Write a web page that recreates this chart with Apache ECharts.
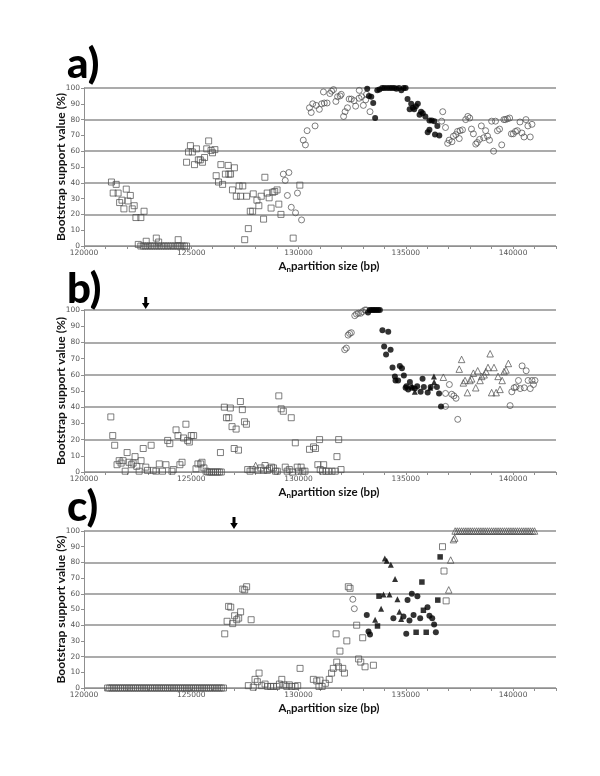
<!DOCTYPE html>
<html>
<head>
<meta charset="utf-8">
<script src="https://cdn.jsdelivr.net/npm/echarts@6/dist/echarts.min.js"></script>
<style>html,body{margin:0;padding:0;background:#fff}#c{width:600px;height:776px}</style>
</head>
<body>
<div id="c"></div>
<script>
// ---------- tick labels ----------
const xLabelValues = [120000, 125000, 130000, 135000, 140000];
const yLabelValues = [0, 10, 20, 30, 40, 50, 60, 70, 80, 90, 100];
const panelLabels = ['a)', 'b)', 'c)'];

// ---------- panel a ----------
const aOpenSquares = [
  [121280,40.5],[121500,39],[121360,33.5],[121590,33.5],[121970,36],[121770,29],[121660,27.5],[121860,23.5],
  [122050,28.5],[122160,32],[122250,23.5],[122340,25.5],[122420,18],[122650,18],[122800,22],
  [122530,1],[122900,3],[123370,5],[123480,2.5],[124390,4],
  [122650,0],[122760,0],[122860,0],[122970,0],[123080,0],[123180,0],[123290,0],[123400,0],[123500,0],
  [123610,0],[123720,0],[123820,0],[123930,0],[124040,0],[124140,0],[124250,0],[124360,0],[124460,0],
  [124570,0],[124680,0],[124780,0],
  [124780,53],[124870,59.5],[124960,63.5],[125050,59.5],[125150,51.5],[125240,61.5],[125330,54.5],
  [125420,54.5],[125520,53],[125620,56],[125720,61.5],[125810,66.5],[125920,60.5],[125990,59],[126100,61],
  [126160,44.5],[126270,40.5],[126460,39],[126380,51.5],[126590,45.5],[126720,51],[126750,45.5],[126830,45.5],
  [126920,35.5],[127010,49.5],[127100,31.5],[127230,38],[127300,31.5],[127400,38],[127490,4],[127580,31.5],
  [127660,11],[127750,22],[127860,22],[127890,33],[128060,29],[128150,25.5],[128260,31.5],[128370,17],
  [128430,43.5],[128540,33.5],[128630,30.5],[128720,24],[128800,34],[128890,34.5],[129000,35.5],[129080,26.5],
  [129180,20],[129750,5],[130060,38.5]
];
const aOpenCircles = [
  [129290,45.5],[129550,46.5],[129380,41.5],[129480,32],[129660,24.5],[129860,21],[129950,33.5],[130140,16.5],
  [130220,67],[130320,64],[130400,73],[130510,87.5],[130590,84.5],[130660,90],[130820,89],[130770,76],
  [130970,86.5],[131080,90],[131200,90.5],[131330,90.5],[131160,97.5],[131460,96.5],[131540,98],[131630,99],
  [131740,91.5],[131820,94.5],[131940,95],[131990,96],[132100,82],[132170,85],[132280,87.5],[132360,93],
  [132460,93],[132590,92],[132660,88.5],[132820,93.5],[132830,98.5],[132940,94.5],[133020,89],[133130,92.5],
  [133170,96],[133330,85],
  [136720,85],[136670,79],[136850,75],[136950,65],[137020,67],[137150,66],[137220,69.5],[137330,70.5],
  [137410,72.5],[137490,68],[137530,73],[137640,73.5],[137790,80],[137890,82],[137980,81],[138060,74],
  [138150,71],[138260,64.5],[138330,65.5],[138440,67.5],[138520,76],[138630,68.5],[138720,73],[138810,69.5],
  [138900,67],[139000,79],[139090,60],[139180,79],[139270,73],[139370,74],[139470,64],[139570,80],
  [139640,80],[139740,80.5],[139840,81],[139920,71],[140010,71],[140110,72.5],[140200,73],[140320,78.5],
  [140410,71.5],[140510,69],[140600,80],[140690,76],[140800,69],[140880,77]
];
const aFilledCircles = [
  [133200,99.5],[133280,95],[133390,94.5],[133480,90.5],[133570,81],[133670,98.5],[133770,99],[133900,100],
  [134000,100],[134130,100],[134250,100],[134360,100],[134470,100],[134560,99.5],[134680,100],[134790,98.5],
  [134900,100],[134990,100],[135080,93],[135180,86.5],[135250,90],[135330,87.5],[135390,86.5],[135470,88.5],
  [135560,90],[135640,83],[135710,85],[135790,84],[135910,82],[136100,79.5],[136210,79.5],[136330,79],
  [136100,73.5],[136020,72],[136360,70.5],[136470,76],[136560,70]
];

// ---------- panel b ----------
const bOpenSquares = [
  [121250,34],[121340,22.5],[121430,16.5],[121540,4.5],[121640,7],[121730,5.5],[121820,7],[121920,0.5],
  [122010,12],[122100,6],[122210,4.5],[122290,5.5],[122380,9.5],[122460,3.5],[122570,0.5],[122660,7],
  [122760,14.5],[122880,3],[122960,1],[123130,16.5],[123230,1],[123350,0.5],[123510,5],[123660,0.5],
  [123820,4.5],[123900,19.5],[124000,17.5],[124100,0.5],[124160,1.5],[124290,26],[124380,22.5],[124470,4.5],
  [124570,6],[124640,21],[124750,29.5],[124830,19.5],[124910,18.5],[125000,22.5],[125110,22.5],[125220,2],
  [125310,5],[125440,5],[125500,6],[125590,2.5],[125690,0.5],[125770,0],[125860,0],[125950,0],[126040,0],
  [126130,0],[126220,0],[126310,0],[126400,0],[126360,12],[126540,40],[126640,33.5],[126750,33.5],
  [126820,39.5],[126900,28],[127000,14.5],[127090,26.5],[127200,13.5],[127290,43.5],[127380,38.5],
  [127480,31],[127570,29.5],[127630,1.5],[127740,0.5],[127840,1.5],[128100,1],[128240,2.5],[128370,1],
  [128440,4],[128550,1],[128650,2],[128740,3],[128830,2.5],[128930,0.5],[129010,0.5],[129080,47],
  [129190,39],[129290,37.5],[129380,3],[129470,0.5],[129570,1.5],[129660,33.5],[129710,0],[129850,18],
  [129940,3],[130000,0.5],[130120,3],[130200,0.5],[130300,0.5],[130510,14],[130700,15.5],[130790,14.5],
  [130980,20],[130900,4.5],[131170,4.5],[131010,1.5],[131120,0.5],[131280,0.5],[131400,0.5],[131560,0.5],
  [131710,0.5],[131790,9.5],[131870,20],[131980,1.5]
];
const bOpenTriangles = [
  [128000,4],
  [136750,58.5],[137600,69.5],[137490,63.5],[137680,55],[137760,56.5],[137870,49],[137990,56.5],[138070,57.5],
  [138150,61],[138260,52],[138350,62.5],[138460,56.5],[138540,59],[138650,60],[138740,62],[138830,64.5],
  [138930,73],[139000,49],[139110,64.5],[139210,49],[139300,59],[139390,51],[139490,56.5],[139580,62],
  [139670,63],[139780,67]
];
const bOpenCircles = [
  [132150,75.5],[132230,76.5],[132310,84.5],[132380,85.5],[132460,86],[132620,96.5],[132700,97.5],
  [132790,98],[132900,98],[132980,99],[133090,100],[133160,100],
  [136850,48.5],[137030,54],[137140,48],[137240,47],[137340,45.5],[136850,40.5],[137420,32.5],
  [139860,41],[139940,49.5],[140050,52],[140140,52.5],[140250,56.5],[140330,51.5],[140420,65.5],
  [140520,52],[140610,62.5],[140700,56.5],[140800,51.5],[140880,56.5],[140950,54],[141020,56.5]
];
const bFilledCircles = [
  [133240,98.5],[133320,100],[133400,100],[133480,100],[133550,100],[133630,100],[133710,100],[133790,100],
  [133910,87.5],[134180,86.5],[133990,77.5],[134290,75.5],[134080,72.5],[134380,64.5],[134720,65.5],
  [134820,64],[134490,59],[134910,59.5],[134520,56.5],[134640,56.5],[135030,53],[135190,55.5],[134990,52],
  [135110,51],[135270,52],[135420,51.5],[135530,53],[135690,49.5],[135780,57.5],[135840,52.5],[136020,49],
  [136160,52.5],[136450,52.5],[136550,48.5],[136640,40.5]
];
const bFilledTriangles = [
  [135300,53],[135420,49.5],[136310,59],[136320,55.5],[136140,52]
];

// ---------- panel c ----------
const cOpenSquares = [
  [121100,0],[121200,0],[121300,0],[121400,0],[121500,0],[121600,0],[121700,0],[121800,0],[121900,0],
  [122000,0],[122100,0],[122200,0],[122300,0],[122400,0],[122500,0],[122600,0],[122700,0],[122800,0],
  [122900,0],[123000,0],[123100,0],[123200,0],[123300,0],[123400,0],[123500,0],[123600,0],[123700,0],
  [123800,0],[123900,0],[124000,0],[124100,0],[124200,0],[124300,0],[124400,0],[124500,0],[124600,0],
  [124700,0],[124800,0],[124900,0],[125000,0],[125100,0],[125200,0],[125300,0],[125400,0],[125500,0],
  [125600,0],[125700,0],[125800,0],[125900,0],[126000,0],[126100,0],[126200,0],[126300,0],[126400,0],
  [126500,0],
  [126560,34.5],[126670,42.5],[126740,52],[126840,51.5],[126930,41],[127020,46],[127120,43.5],[127210,44.5],
  [127300,48.5],[127400,63],[127490,62.5],[127580,64.5],[127790,43.5],[127660,1.5],[127890,0.5],[127970,5.5],
  [128080,4],[128160,9.5],[128280,1.5],[128440,2.5],[128560,1],[128700,1],[128830,1],[128980,1],
  [129110,2.5],[129220,5.5],[129320,2],[129450,1],[129570,2],[129680,1],[129840,1],[129960,1.5],
  [130070,12.5],[130690,5.5],[130850,4.5],[131000,5],[130950,1],[131100,1],[131250,3],[131430,5.5],
  [131540,9.5],[131620,12.5],[131780,16.5],[131860,13.5],[132060,12.5],[132140,9.5],[131930,23.5],
  [131750,34.5],[132250,30],[132320,64.5],[132400,63.5],[132710,40],[132990,32],[132800,18.5],[132900,16.5],
  [133100,13.5],[133490,14.5],[136710,90],[136780,74.5],[136880,55.5]
];
const cOpenCircles = [[132530,56.5],[132600,50.5]];
const cFilledCircles = [
  [133180,46.5],[133260,36],[133330,34],[134420,44.5],[134890,45.5],[135020,34.5],[135080,56],[135170,43],
  [135280,60],[135360,46.5],[135540,58.5],[135670,44.5],[136010,51.5],[136100,46],[136230,44.5],
  [136320,40.5],[136400,35.5]
];
const cFilledTriangles = [
  [134020,82.5],[134110,81],[134300,78.5],[134500,69.5],[133960,59.5],[134240,59.5],[134610,56.5],
  [133850,50.5],[133570,43.5],[134700,48.5],[134780,44]
];
const cFilledSquares = [
  [133750,58.5],[133680,39.5],[135750,67.5],[136600,83.5],[136490,56],[135480,35.5],[135950,35.5],[135820,49.5]
];
const cOpenTriangles = [
  [137000,62.5],[137090,81.5],[137220,94.5],[137280,95.5],
  [137300,100],[137400,100],[137500,100],[137600,100],[137700,100],[137800,100],[137900,100],[138000,100],
  [138100,100],[138200,100],[138300,100],[138400,100],[138500,100],[138600,100],[138700,100],[138800,100],
  [138900,100],[139000,100],[139100,100],[139200,100],[139300,100],[139400,100],[139500,100],[139600,100],
  [139700,100],[139800,100],[139900,100],[140000,100],[140100,100],[140200,100],[140300,100],[140400,100],
  [140500,100],[140600,100],[140700,100],[140800,100],[140900,100],[141000,100]
];

// ---------- build chart ----------
const chart = echarts.init(document.getElementById('c'), null, {renderer: 'canvas'});
const FONT = 'Lato';
const GRAY = '#8f8f8f';
const grids = [
  {left: 84, right: 44, top: 88, height: 158},
  {left: 84, right: 44, top: 310, height: 162},
  {left: 84, right: 44, top: 531, height: 157}
];

function xAxisFor(i) {
  return {
    type: 'value', gridIndex: i, min: 120000, max: 142000, interval: 1000,
    name: '{b|A}{s|n}{b|partition size (bp)}',
    nameLocation: 'middle', nameGap: 13,
    nameTextStyle: {
      padding: [0, 0, 0, 18],
      rich: {
        b: {fontFamily: FONT, fontWeight: 'bold', fontSize: 11.5, color: '#111'},
        s: {fontFamily: FONT, fontWeight: 'bold', fontSize: 8, color: '#111', verticalAlign: 'bottom', padding: [6, 0, 0, 0]}
      }
    },
    axisLine: {show: true, lineStyle: {color: GRAY, width: 1}},
    axisTick: {show: true, length: 3, interval: 0, lineStyle: {color: GRAY}},
    axisLabel: {
      interval: 0, fontFamily: 'DejaVu Sans', fontSize: 7.5, color: '#555', margin: 3,
      formatter: v => (xLabelValues.indexOf(v) >= 0 ? String(v) : '')
    },
    splitLine: {show: false}
  };
}
function yAxisFor(i) {
  return {
    type: 'value', gridIndex: i, min: 0, max: 100, interval: 10,
    name: 'Bootstrap support value (%)',
    nameLocation: 'middle', nameGap: 17, nameMoveOverlap: false,
    nameTextStyle: {fontFamily: FONT, fontWeight: 'bold', fontSize: 12, color: '#111'},
    axisLine: {show: true, lineStyle: {color: GRAY, width: 1}},
    axisTick: {show: true, length: 3, lineStyle: {color: GRAY}},
    axisLabel: {
      fontFamily: 'DejaVu Sans', fontSize: 7.5, color: '#555', margin: 4,
      formatter: v => (yLabelValues.indexOf(v) >= 0 ? String(v) : '')
    },
    splitLine: {show: true, lineStyle: {color: [GRAY, 'rgba(0,0,0,0)'], width: 1.6}}
  };
}

function sc(name, data, g, symbol, filled, size) {
  return {
    name: name, type: 'scatter', xAxisIndex: g, yAxisIndex: g, data: data,
    symbol: symbol, symbolSize: size, clip: false,
    itemStyle: filled
      ? {color: '#000', borderWidth: 0}
      : {color: 'rgba(255,255,255,0)', borderColor: '#4d4d4d', borderWidth: 0.9},
    emphasis: {disabled: true}
  };
}

function arrow(cx, top) {
  return {
    type: 'polygon', silent: true,
    shape: {points: [[cx - 1.5, top], [cx + 1.5, top], [cx + 1.5, top + 6], [cx + 3.8, top + 6],
                     [cx, top + 12], [cx - 3.8, top + 6], [cx - 1.5, top + 6]]},
    style: {fill: '#000'}
  };
}

const option = {
  animation: false,
  backgroundColor: '#fff',
  grid: grids,
  xAxis: [xAxisFor(0), xAxisFor(1), xAxisFor(2)],
  yAxis: [yAxisFor(0), yAxisFor(1), yAxisFor(2)],
  title: [
    {text: panelLabels[0], left: 62, top: 38, textStyle: {fontFamily: FONT, fontWeight: 900, fontSize: 42, color: '#000'}},
    {text: panelLabels[1], left: 62, top: 263, textStyle: {fontFamily: FONT, fontWeight: 900, fontSize: 42, color: '#000'}},
    {text: panelLabels[2], left: 62, top: 481, textStyle: {fontFamily: FONT, fontWeight: 900, fontSize: 42, color: '#000'}}
  ],
  graphic: [arrow(145.7, 297), arrow(234, 517)],
  series: [
    sc('a squares', aOpenSquares, 0, 'rect', false, 6),
    sc('a open circles', aOpenCircles, 0, 'circle', false, 6),
    sc('a filled circles', aFilledCircles, 0, 'circle', true, 6),
    sc('b squares', bOpenSquares, 1, 'rect', false, 6),
    sc('b open triangles', bOpenTriangles, 1, 'triangle', false, 6.5),
    sc('b open circles', bOpenCircles, 1, 'circle', false, 6),
    sc('b filled circles', bFilledCircles, 1, 'circle', true, 6),
    sc('b filled triangles', bFilledTriangles, 1, 'triangle', true, 6),
    sc('c squares', cOpenSquares, 2, 'rect', false, 6),
    sc('c open circles', cOpenCircles, 2, 'circle', false, 6),
    sc('c filled circles', cFilledCircles, 2, 'circle', true, 6),
    sc('c filled triangles', cFilledTriangles, 2, 'triangle', true, 6),
    sc('c filled squares', cFilledSquares, 2, 'rect', true, 5.5),
    sc('c open triangles', cOpenTriangles, 2, 'triangle', false, 6.5)
  ]
};
chart.setOption(option);
</script>
</body>
</html>
